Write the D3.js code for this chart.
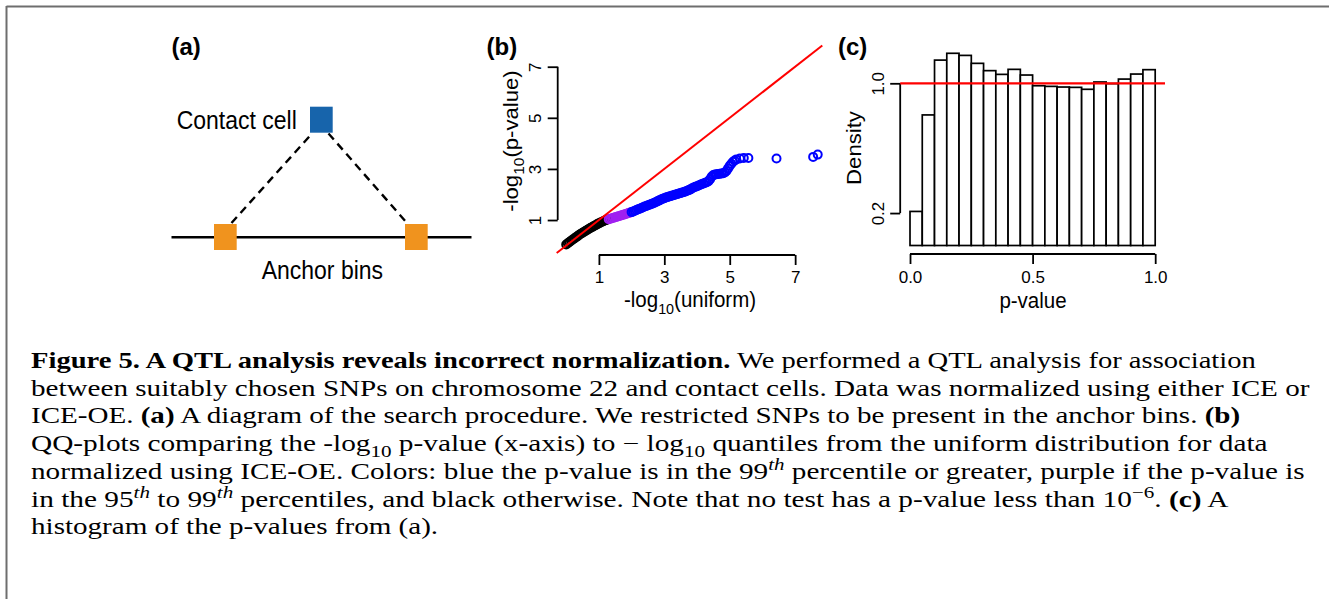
<!DOCTYPE html>
<html><head><meta charset="utf-8">
<script src="https://cdn.jsdelivr.net/npm/d3@7"></script>
<style>html,body{margin:0;padding:0;background:#fff;} svg{display:block;}</style>
</head><body>
<script>
// ---------- DATA ----------
// Panel (b): QQ plot, -log10(uniform) vs -log10(p-value)
const qqBlackX = [0.00,0.05,0.10,0.15,0.20,0.25,0.30,0.35,0.40,0.45,0.50,0.55,0.60,0.65,0.70,0.75,0.80,0.85,0.90,0.95,1.00,1.05,1.10,1.15,1.20,1.25];
const qqBlackY = [0.04,0.09,0.14,0.19,0.24,0.28,0.33,0.37,0.42,0.46,0.50,0.54,0.58,0.62,0.66,0.70,0.73,0.77,0.80,0.84,0.87,0.90,0.93,0.96,0.99,1.01];
const qqPurpleX = [1.30,1.35,1.40,1.45,1.50,1.55,1.60,1.65,1.70,1.75,1.80,1.85,1.90,1.95];
const qqPurpleY = [1.03,1.05,1.07,1.09,1.11,1.13,1.15,1.17,1.19,1.21,1.23,1.25,1.27,1.29];
const qqBlueX = [2.00,2.05,2.10,2.15,2.20,2.25,2.30,2.35,2.40,2.45,2.50,2.55,2.60,2.65,2.70,2.75,2.80,2.85,2.90,2.95,
                 3.00,3.05,3.10,3.15,3.20,3.25,3.30,3.35,3.40,3.45,3.50,3.55,3.60,3.65,3.70,3.75,3.80,3.85,3.90,3.95,
                 4.00,4.05,4.10,4.15,4.20,4.25,4.30,4.35,4.40,4.45,4.50,4.55,4.60,4.65,4.70,4.75,4.80,4.85,4.90,4.95,
                 5.00,5.05,5.10,5.15,5.20,5.31,5.43,5.57,6.43,7.55,7.69];
const qqBlueY = [1.31,1.33,1.36,1.39,1.42,1.44,1.47,1.50,1.53,1.55,1.58,1.60,1.63,1.65,1.68,1.71,1.74,1.77,1.80,1.83,
                 1.85,1.88,1.90,1.92,1.94,1.96,1.98,2.00,2.02,2.04,2.06,2.08,2.10,2.12,2.15,2.17,2.20,2.24,2.27,2.30,
                 2.32,2.35,2.38,2.41,2.43,2.46,2.48,2.52,2.60,2.70,2.76,2.78,2.79,2.80,2.81,2.82,2.83,2.86,2.92,3.02,
                 3.12,3.20,3.28,3.33,3.37,3.41,3.43,3.43,3.41,3.47,3.56];
const qqXTicks = [1,3,5,7];
const qqYTicks = [1,3,5,7];
const qqLimX = [-0.29, 7.83];
const qqLimY = [-0.33, 7.85];

// Panel (c): histogram of p-values (density)
const histBinLeft = [0.00,0.05,0.10,0.15,0.20,0.25,0.30,0.35,0.40,0.45,0.50,0.55,0.60,0.65,0.70,0.75,0.80,0.85,0.90,0.95];
const histDensity = [0.21,0.805,1.143,1.185,1.172,1.123,1.078,1.055,1.086,1.051,0.985,0.981,0.977,0.975,0.963,1.008,0.998,1.026,1.057,1.084];
const histBinWidth = 0.05;
const histXTicks = [0.0,0.5,1.0];
const histYTicks = [0.2,1.0];
const histLimX = [-0.04, 1.04];

// Caption lines: [text, style]
const captionLines = [
  [["Figure 5. A QTL analysis reveals incorrect normalization.","b"],[" We performed a QTL analysis for association","n"]],
  [["between suitably chosen SNPs on chromosome 22 and contact cells. Data was normalized using either ICE or","n"]],
  [["ICE-OE. ","n"],["(a)","b"],[" A diagram of the search procedure. We restricted SNPs to be present in the anchor bins. ","n"],["(b)","b"]],
  [["QQ-plots comparing the -log","n"],["10","sub"],[" p-value (x-axis) to \u2212 log","n"],["10","sub"],[" quantiles from the uniform distribution for data","n"]],
  [["normalized using ICE-OE. Colors: blue the p-value is in the 99","n"],["th","supi"],[" percentile or greater, purple if the p-value is","n"]],
  [["in the 95","n"],["th","supi"],[" to 99","n"],["th","supi"],[" percentiles, and black otherwise. Note that no test has a p-value less than 10","n"],["\u22126","sup"],[". ","n"],["(c)","b"],[" A","n"]],
  [["histogram of the p-values from (a).","n"]]
];
const captionRight = [1256, 1310, 1241, 1268, 1305, 1229, null];

// ---------- DRAW ----------
const W = 1329, H = 599;
const SANS = "'Liberation Sans', Arial, Helvetica, sans-serif";
const SERIF = "'Liberation Serif', 'Times New Roman', serif";
const svg = d3.select("body").append("svg").attr("width", W).attr("height", H);
svg.append("rect").attr("width", W).attr("height", H).attr("fill", "#fff");

// frame
svg.append("line").attr("x1", 6.5).attr("x2", W).attr("y1", 6.5).attr("y2", 6.5).attr("stroke", "#6e6e6e").attr("stroke-width", 2);
svg.append("line").attr("x1", 6.5).attr("x2", 6.5).attr("y1", 6).attr("y2", H).attr("stroke", "#6e6e6e").attr("stroke-width", 2);

function stxt(parent, x, y, parts, size, opt = {}) {
  const sy = opt.sy || 1.1;
  const g = parent.append("g").attr("transform", `translate(${x},${y}) scale(1,${sy})` + (opt.rot ? " rotate(-90)" : ""));
  const t = g.append("text").attr("font-family", SANS).attr("font-size", size)
    .attr("text-anchor", opt.anchor || "start").attr("font-weight", opt.weight || "normal").attr("fill", "#000");
  if (typeof parts === "string") parts = [[parts, "n"]];
  let off = 0;
  parts.forEach(([s, st]) => {
    const ts = t.append("tspan").text(s);
    if (st === "sub") { ts.attr("font-size", size * 0.7).attr("dy", size * 0.3 - off); off = size * 0.3; }
    else { if (off) ts.attr("dy", -off); off = 0; }
  });
  return t;
}

// ---------- Panel (a): diagram ----------
const A = svg.append("g");
stxt(A, 171.5, 55, "(a)", 24, { weight: "bold", sy: 1.0 });
A.append("line").attr("x1", 171.5).attr("x2", 471.5).attr("y1", 237.3).attr("y2", 237.3).attr("stroke", "#000").attr("stroke-width", 2.4);
A.append("line").attr("x1", 231.5).attr("y1", 223).attr("x2", 312).attr("y2", 133.5).attr("stroke", "#000").attr("stroke-width", 2.4).attr("stroke-dasharray", "8,5.5");
A.append("line").attr("x1", 328.5).attr("y1", 133.5).attr("x2", 407).attr("y2", 223).attr("stroke", "#000").attr("stroke-width", 2.4).attr("stroke-dasharray", "8,5.5");
A.append("rect").attr("x", 310).attr("y", 106.7).attr("width", 22.7).attr("height", 26).attr("fill", "#1764ab");
A.append("rect").attr("x", 214).attr("y", 224).attr("width", 22.7).attr("height", 26).attr("fill", "#f0931e");
A.append("rect").attr("x", 405).attr("y", 224).attr("width", 22.7).attr("height", 26).attr("fill", "#f0931e");
stxt(A, 176.7, 129, "Contact cell", 23, { sy: 1.15 });
stxt(A, 261.7, 279.3, "Anchor bins", 23, { sy: 1.15 });

// ---------- Panel (b): QQ plot ----------
const B = svg.append("g");
const xq = d3.scaleLinear().domain(qqLimX).range([556.7, 822.3]);
const yq = d3.scaleLinear().domain(qqLimY).range([254, 45]);
stxt(B, 486.5, 55, "(b)", 24, { weight: "bold", sy: 1.0 });

function rAxisStyle(g) {
  g.select(".domain").remove();
  g.selectAll(".tick line").attr("stroke", "#000").attr("stroke-width", 1.8);
  g.selectAll(".tick text").attr("font-family", SANS).attr("font-size", 17).attr("fill", "#000");
}
// x axis
const bxAxis = B.append("g").attr("transform", "translate(0,255)")
  .call(d3.axisBottom(xq).tickValues(qqXTicks).tickSize(10).tickSizeOuter(0).tickFormat(d3.format("d")));
rAxisStyle(bxAxis);
bxAxis.selectAll(".tick text").attr("y", 28).attr("dy", 0);
bxAxis.append("line").attr("x1", xq(qqXTicks[0])).attr("x2", xq(qqXTicks[qqXTicks.length - 1])).attr("stroke", "#000").attr("stroke-width", 1.8);
// y axis
const byAxis = B.append("g").attr("transform", "translate(557.7,0)")
  .call(d3.axisLeft(yq).tickValues(qqYTicks).tickSize(10).tickSizeOuter(0).tickFormat(d3.format("d")));
rAxisStyle(byAxis);
byAxis.selectAll(".tick text").attr("x", 0).attr("dy", 0).attr("y", -17).attr("text-anchor", "middle").attr("transform", "rotate(-90)");
byAxis.append("line").attr("y1", yq(qqYTicks[0])).attr("y2", yq(qqYTicks[qqYTicks.length - 1])).attr("stroke", "#000").attr("stroke-width", 1.8);
// titles
stxt(B, 690, 307, [["-log", "n"], ["10", "sub"], ["(uniform)", "n"]], 20.5, { anchor: "middle", sy: 1.08 });
stxt(B, 518, 141, [["-log", "n"], ["10", "sub"], ["(p-value)", "n"]], 20.5, { anchor: "middle", rot: true, sy: 1.08 });

// points
function pts(xs, ys, color) {
  B.append("g").selectAll("circle").data(xs.map((x, i) => [x, ys[i]])).join("circle")
    .attr("cx", d => xq(d[0])).attr("cy", d => yq(d[1])).attr("r", 4)
    .attr("fill", "none").attr("stroke", color).attr("stroke-width", 2);
}
pts(qqBlackX, qqBlackY, "#000000");
pts(qqPurpleX, qqPurpleY, "#a020f0");
pts(qqBlueX, qqBlueY, "#0000ff");
// reference line y = x, clipped to the plot region
B.append("line").attr("x1", xq(qqLimX[0])).attr("y1", yq(qqLimX[0])).attr("x2", xq(qqLimX[1])).attr("y2", yq(qqLimX[1]))
  .attr("stroke", "#ff0000").attr("stroke-width", 2);

// ---------- Panel (c): histogram ----------
const C = svg.append("g");
const xh = d3.scaleLinear().domain(histLimX).range([900.2, 1165]);
const yh = d3.scaleLinear().domain([0, 1]).range([245.5, 83.3]);
stxt(C, 838, 55, "(c)", 24, { weight: "bold", sy: 1.0 });
C.append("g").selectAll("rect").data(histBinLeft.map((x, i) => [x, histDensity[i]])).join("rect")
  .attr("x", d => xh(d[0])).attr("width", d => xh(d[0] + histBinWidth) - xh(d[0]))
  .attr("y", d => yh(d[1])).attr("height", d => yh(0) - yh(d[1]))
  .attr("fill", "#fff").attr("stroke", "#000").attr("stroke-width", 1.7);
const cxAxis = C.append("g").attr("transform", "translate(0,254)")
  .call(d3.axisBottom(xh).tickValues(histXTicks).tickSize(10).tickSizeOuter(0).tickFormat(d3.format(".1f")));
rAxisStyle(cxAxis);
cxAxis.selectAll(".tick text").attr("y", 29).attr("dy", 0);
cxAxis.append("line").attr("x1", xh(histXTicks[0])).attr("x2", xh(histXTicks[histXTicks.length - 1])).attr("stroke", "#000").attr("stroke-width", 1.8);
const cyAxis = C.append("g").attr("transform", "translate(900.2,0)")
  .call(d3.axisLeft(yh).tickValues(histYTicks).tickSize(10).tickSizeOuter(0).tickFormat(d3.format(".1f")));
rAxisStyle(cyAxis);
cyAxis.selectAll(".tick text").attr("x", 0).attr("dy", 0).attr("y", -16).attr("text-anchor", "middle").attr("transform", "rotate(-90)");
cyAxis.append("line").attr("y1", yh(histYTicks[0])).attr("y2", yh(histYTicks[histYTicks.length - 1])).attr("stroke", "#000").attr("stroke-width", 1.8);
C.append("line").attr("x1", xh(histLimX[0])).attr("x2", xh(histLimX[1])).attr("y1", yh(1)).attr("y2", yh(1))
  .attr("stroke", "#ff0000").attr("stroke-width", 2.2);
stxt(C, 1033, 308, "p-value", 20.5, { anchor: "middle", sy: 1.08 });
stxt(C, 861, 148, "Density", 20.5, { anchor: "middle", rot: true, sy: 1.08 });

// ---------- Caption ----------
const cap = svg.append("g");
const capSize = 22.5, capX = 31, capY0 = 368, capDY = 27.7;
const scales = [];
const capTexts = captionLines.map((line, li) => {
  const g = cap.append("g").attr("transform", `translate(${capX},${capY0 + li * capDY})`);
  const t = g.append("text").attr("font-family", SERIF).attr("font-size", capSize).attr("fill", "#000");
  let off = 0;
  line.forEach(([s, st]) => {
    const ts = t.append("tspan").text(s);
    let target = 0;
    if (st === "b") ts.attr("font-weight", "bold");
    if (st === "sub") { ts.attr("font-size", capSize * 0.72); target = capSize * 0.28; }
    if (st === "sup" || st === "supi") { ts.attr("font-size", capSize * 0.72); target = -capSize * 0.38; }
    if (st === "supi") ts.attr("font-style", "italic");
    if (target !== off) ts.attr("dy", target - off);
    off = target;
  });
  const w = t.node().getComputedTextLength();
  if (captionRight[li] != null) scales.push((captionRight[li] - capX) / w);
  return { g, w };
});
const meanScale = d3.mean(scales);
capTexts.forEach((c, li) => {
  const s = captionRight[li] != null ? (captionRight[li] - capX) / c.w : meanScale;
  c.g.attr("transform", `translate(${capX},${capY0 + li * capDY}) scale(${s},1)`);
});
</script>
</body></html>
